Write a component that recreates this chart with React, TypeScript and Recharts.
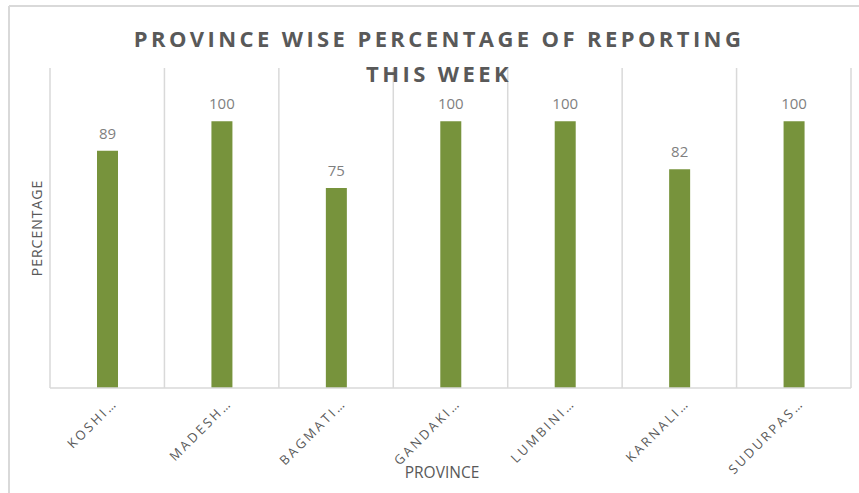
import React from "react";
import { BarChart, Bar, XAxis, YAxis, CartesianGrid, LabelList } from "recharts";

const provinces = ["KOSHI…", "MADESH…", "BAGMATI…", "GANDAKI…", "LUMBINI…", "KARNALI…", "SUDURPAS…"];
const reportingPct = [89, 100, 75, 100, 100, 82, 100];
const yDomain = [0, 120];

const data = provinces.map((name, i) => ({ name, value: reportingPct[i] }));

const W = 859;
const H = 493;
const FONT = "'Open Sans', sans-serif";

function CategoryTick(props: any) {
  const { x, y, payload } = props;
  const tx = x + 11;
  const ty = y + 14;
  return (
    <text
      x={tx}
      y={ty}
      transform={`rotate(-45, ${tx}, ${ty})`}
      textAnchor="end"
      fill="#595959"
      fontSize={13}
      fontFamily={FONT}
      letterSpacing={2.6}
    >
      {payload.value}
    </text>
  );
}

export default function App() {
  return (
    <div style={{ position: "absolute", left: 0, top: 0, width: W, height: H, background: "#fff" }}>
      <BarChart width={W} height={H} data={data} margin={{ top: 68, right: 8, left: 50, bottom: 0 }}>
        <CartesianGrid
          horizontal={false}
          stroke="#d9d9d9"
          strokeWidth={1.5}
          verticalCoordinatesGenerator={({ offset }: any) =>
            Array.from({ length: provinces.length + 1 }, (_, i) => offset.left + (i * offset.width) / provinces.length)
          }
        />
        <XAxis
          dataKey="name"
          height={105}
          interval={0}
          tickLine={false}
          tickSize={0}
          axisLine={{ stroke: "#d9d9d9", strokeWidth: 1.5 }}
          tick={<CategoryTick />}
        />
        <YAxis hide domain={yDomain} />
        <Bar dataKey="value" fill="#77933C" barSize={21} isAnimationActive={false}>
          <LabelList dataKey="value" position="top" offset={12} fill="#7f7f7f" fontSize={15} fontFamily={FONT} />
        </Bar>
      </BarChart>
      <svg width={W} height={H} style={{ position: "absolute", left: 0, top: 0, pointerEvents: "none" }}>
        <line x1={9} y1={6} x2={W} y2={6} stroke="#d9d9d9" strokeWidth={2} />
        <line x1={9} y1={6} x2={9} y2={H} stroke="#d9d9d9" strokeWidth={2} />
        <text x={439} y={47} textAnchor="middle" fill="#595959" fontSize={22} fontWeight={700} fontFamily={FONT} letterSpacing={3.4}>
          PROVINCE WISE PERCENTAGE OF REPORTING
        </text>
        <text x={439} y={82} textAnchor="middle" fill="#595959" fontSize={22} fontWeight={700} fontFamily={FONT} letterSpacing={3.4}>
          THIS WEEK
        </text>
        <text x={442} y={478} textAnchor="middle" fill="#595959" fontSize={15.5} fontFamily={FONT}>
          PROVINCE
        </text>
        <text
          x={42}
          y={228}
          transform="rotate(-90, 42, 228)"
          textAnchor="middle"
          fill="#595959"
          fontSize={14}
          fontFamily={FONT}
          letterSpacing={1}
        >
          PERCENTAGE
        </text>
      </svg>
    </div>
  );
}
